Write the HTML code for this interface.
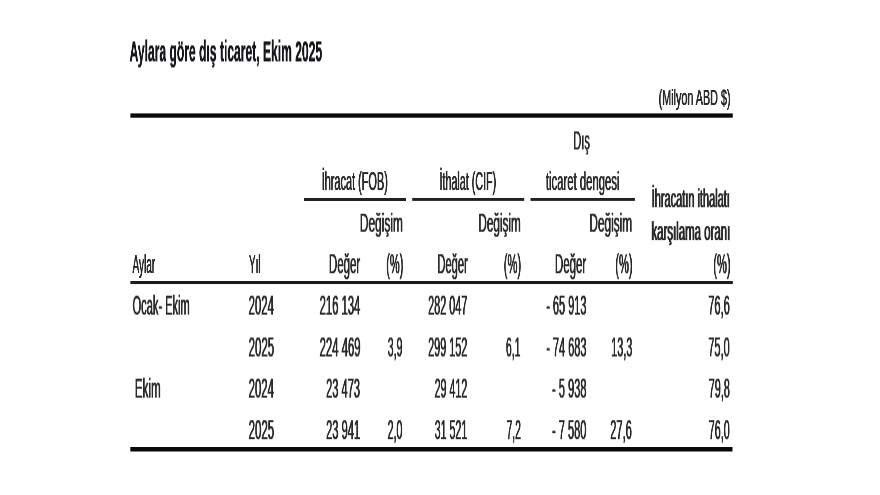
<!DOCTYPE html>
<html lang="tr"><head><meta charset="utf-8"><title>Aylara göre dış ticaret, Ekim 2025</title>
<style>
html,body{margin:0;padding:0;background:#fff;}
body{width:880px;height:495px;position:relative;overflow:hidden;font-family:"Liberation Sans",sans-serif;color:#2b2b2b;}
.t{position:absolute;left:0;top:0;white-space:nowrap;margin:0;padding:0;transform-origin:0 0;will-change:transform;}
.l{position:absolute;left:0;top:0;width:100px;height:10px;transform-origin:0 0;will-change:transform;}
#w{position:absolute;left:0;top:0;width:880px;height:495px;filter:blur(0.5px);}
</style></head><body><div id="w">
<div class="t" id="title" style="font-size:29px;line-height:29px;transform:translate(129.57px,36.52px) scale(0.4172,1.045);text-shadow:0.2px 0 0 currentColor,-0.2px 0 0 currentColor;font-weight:bold;color:#17171c;">Aylara göre dış ticaret, Ekim 2025</div>
<div class="t" id="milyon" style="font-size:22px;line-height:22px;transform:translate(658.61px,87.00px) scale(0.4900,1.0);text-shadow:0.45px 0 0 currentColor,-0.45px 0 0 currentColor;">(Milyon ABD $)</div>
<div class="t" id="dis" style="font-size:25px;line-height:25px;transform:translate(573.28px,127.46px) scale(0.4426,1.04);text-shadow:0.6px 0 0 currentColor,-0.6px 0 0 currentColor;">Dış</div>
<div class="t" id="ihracat" style="font-size:25px;line-height:25px;transform:translate(321.68px,168.15px) scale(0.4371,1.055);text-shadow:0.6px 0 0 currentColor,-0.6px 0 0 currentColor;">İhracat (FOB)</div>
<div class="t" id="ithalat" style="font-size:25px;line-height:25px;transform:translate(439.49px,168.15px) scale(0.4295,1.055);text-shadow:0.6px 0 0 currentColor,-0.6px 0 0 currentColor;">İthalat (CIF)</div>
<div class="t" id="ticaret" style="font-size:25px;line-height:25px;transform:translate(545.86px,169.09px) scale(0.4526,1.01);text-shadow:0.6px 0 0 currentColor,-0.6px 0 0 currentColor;">ticaret dengesi</div>
<div class="t" id="deg1" style="font-size:25px;line-height:25px;transform:translate(359.83px,209.78px) scale(0.4775,1.025);text-shadow:0.6px 0 0 currentColor,-0.6px 0 0 currentColor;">Değişim</div>
<div class="t" id="deg2" style="font-size:25px;line-height:25px;transform:translate(478.34px,209.78px) scale(0.4707,1.025);text-shadow:0.6px 0 0 currentColor,-0.6px 0 0 currentColor;">Değişim</div>
<div class="t" id="deg3" style="font-size:25px;line-height:25px;transform:translate(589.34px,209.78px) scale(0.4741,1.025);text-shadow:0.6px 0 0 currentColor,-0.6px 0 0 currentColor;">Değişim</div>
<div class="t" id="ihrith" style="font-size:25px;line-height:25px;transform:translate(651.71px,186.20px) scale(0.4393,1.0);text-shadow:0.9px 0 0 currentColor,-0.9px 0 0 currentColor;">İhracatın ithalatı</div>
<div class="t" id="kars" style="font-size:25px;line-height:25px;transform:translate(651.41px,218.17px) scale(0.4575,1.025);text-shadow:0.9px 0 0 currentColor,-0.9px 0 0 currentColor;">karşılama oranı</div>
<div class="t" id="aylar" style="font-size:25px;line-height:25px;transform:translate(132.54px,251.99px) scale(0.4003,1.01);text-shadow:0.6px 0 0 currentColor,-0.6px 0 0 currentColor;">Aylar</div>
<div class="t" id="yil" style="font-size:25px;line-height:25px;transform:translate(248.94px,251.15px) scale(0.3972,1.05);text-shadow:0.6px 0 0 currentColor,-0.6px 0 0 currentColor;">Yıl</div>
<div class="t" id="dgr1" style="font-size:25px;line-height:25px;transform:translate(328.96px,250.41px) scale(0.4586,1.085);text-shadow:0.6px 0 0 currentColor,-0.6px 0 0 currentColor;">Değer</div>
<div class="t" id="pc1" style="font-size:25px;line-height:25px;transform:translate(386.20px,250.41px) scale(0.4411,1.085);text-shadow:0.6px 0 0 currentColor,-0.6px 0 0 currentColor;">(%)</div>
<div class="t" id="dgr2" style="font-size:25px;line-height:25px;transform:translate(437.38px,250.41px) scale(0.4451,1.085);text-shadow:0.6px 0 0 currentColor,-0.6px 0 0 currentColor;">Değer</div>
<div class="t" id="pc2" style="font-size:25px;line-height:25px;transform:translate(503.80px,250.41px) scale(0.4438,1.085);text-shadow:0.6px 0 0 currentColor,-0.6px 0 0 currentColor;">(%)</div>
<div class="t" id="dgr3" style="font-size:25px;line-height:25px;transform:translate(554.96px,250.41px) scale(0.4586,1.085);text-shadow:0.6px 0 0 currentColor,-0.6px 0 0 currentColor;">Değer</div>
<div class="t" id="pc3" style="font-size:25px;line-height:25px;transform:translate(615.30px,250.41px) scale(0.4438,1.085);text-shadow:0.6px 0 0 currentColor,-0.6px 0 0 currentColor;">(%)</div>
<div class="t" id="pc4" style="font-size:25px;line-height:25px;transform:translate(713.30px,250.41px) scale(0.4438,1.085);text-shadow:0.6px 0 0 currentColor,-0.6px 0 0 currentColor;">(%)</div>
<div class="t" id="ocak" style="font-size:25px;line-height:25px;transform:translate(132.61px,291.81px) scale(0.4417,1.085);text-shadow:0.6px 0 0 currentColor,-0.6px 0 0 currentColor;">Ocak- Ekim</div>
<div class="t" id="y1" style="font-size:25px;line-height:25px;transform:translate(248.60px,291.81px) scale(0.4550,1.085);text-shadow:0.6px 0 0 currentColor,-0.6px 0 0 currentColor;">2024</div>
<div class="t" id="a1" style="font-size:25px;line-height:25px;transform:translate(319.61px,291.81px) scale(0.4504,1.085);text-shadow:0.6px 0 0 currentColor,-0.6px 0 0 currentColor;">216 134</div>
<div class="t" id="b1" style="font-size:25px;line-height:25px;transform:translate(428.12px,291.81px) scale(0.4340,1.085);text-shadow:0.6px 0 0 currentColor,-0.6px 0 0 currentColor;">282 047</div>
<div class="t" id="c1" style="font-size:25px;line-height:25px;transform:translate(546.22px,291.81px) scale(0.4387,1.085);text-shadow:0.6px 0 0 currentColor,-0.6px 0 0 currentColor;">- 65 913</div>
<div class="t" id="r1" style="font-size:25px;line-height:25px;transform:translate(708.21px,291.81px) scale(0.4447,1.085);text-shadow:0.6px 0 0 currentColor,-0.6px 0 0 currentColor;">76,6</div>
<div class="t" id="y2" style="font-size:25px;line-height:25px;transform:translate(248.60px,333.61px) scale(0.4591,1.085);text-shadow:0.6px 0 0 currentColor,-0.6px 0 0 currentColor;">2025</div>
<div class="t" id="a2" style="font-size:25px;line-height:25px;transform:translate(319.61px,333.61px) scale(0.4529,1.085);text-shadow:0.6px 0 0 currentColor,-0.6px 0 0 currentColor;">224 469</div>
<div class="t" id="p2" style="font-size:25px;line-height:25px;transform:translate(387.73px,333.61px) scale(0.4243,1.085);text-shadow:0.6px 0 0 currentColor,-0.6px 0 0 currentColor;">3,9</div>
<div class="t" id="b2" style="font-size:25px;line-height:25px;transform:translate(428.12px,333.61px) scale(0.4340,1.085);text-shadow:0.6px 0 0 currentColor,-0.6px 0 0 currentColor;">299 152</div>
<div class="t" id="q2" style="font-size:25px;line-height:25px;transform:translate(505.93px,333.61px) scale(0.4185,1.085);text-shadow:0.6px 0 0 currentColor,-0.6px 0 0 currentColor;">6,1</div>
<div class="t" id="c2" style="font-size:25px;line-height:25px;transform:translate(546.22px,333.61px) scale(0.4387,1.085);text-shadow:0.6px 0 0 currentColor,-0.6px 0 0 currentColor;">- 74 683</div>
<div class="t" id="s2" style="font-size:25px;line-height:25px;transform:translate(611.19px,333.61px) scale(0.4347,1.085);text-shadow:0.6px 0 0 currentColor,-0.6px 0 0 currentColor;">13,3</div>
<div class="t" id="r2" style="font-size:25px;line-height:25px;transform:translate(708.21px,333.61px) scale(0.4423,1.085);text-shadow:0.6px 0 0 currentColor,-0.6px 0 0 currentColor;">75,0</div>
<div class="t" id="ekim" style="font-size:25px;line-height:25px;transform:translate(134.85px,374.81px) scale(0.4643,1.085);text-shadow:0.6px 0 0 currentColor,-0.6px 0 0 currentColor;">Ekim</div>
<div class="t" id="y3" style="font-size:25px;line-height:25px;transform:translate(248.60px,374.81px) scale(0.4550,1.085);text-shadow:0.6px 0 0 currentColor,-0.6px 0 0 currentColor;">2024</div>
<div class="t" id="a3" style="font-size:25px;line-height:25px;transform:translate(326.11px,374.81px) scale(0.4427,1.085);text-shadow:0.6px 0 0 currentColor,-0.6px 0 0 currentColor;">23 473</div>
<div class="t" id="b3" style="font-size:25px;line-height:25px;transform:translate(434.62px,374.81px) scale(0.4269,1.085);text-shadow:0.6px 0 0 currentColor,-0.6px 0 0 currentColor;">29 412</div>
<div class="t" id="c3" style="font-size:25px;line-height:25px;transform:translate(552.02px,374.81px) scale(0.4431,1.085);text-shadow:0.6px 0 0 currentColor,-0.6px 0 0 currentColor;">- 5 938</div>
<div class="t" id="r3" style="font-size:25px;line-height:25px;transform:translate(708.72px,374.81px) scale(0.4341,1.085);text-shadow:0.6px 0 0 currentColor,-0.6px 0 0 currentColor;">79,8</div>
<div class="t" id="y4" style="font-size:25px;line-height:25px;transform:translate(248.60px,416.31px) scale(0.4591,1.085);text-shadow:0.6px 0 0 currentColor,-0.6px 0 0 currentColor;">2025</div>
<div class="t" id="a4" style="font-size:25px;line-height:25px;transform:translate(326.11px,416.31px) scale(0.4441,1.085);text-shadow:0.6px 0 0 currentColor,-0.6px 0 0 currentColor;">23 941</div>
<div class="t" id="p4" style="font-size:25px;line-height:25px;transform:translate(387.62px,416.31px) scale(0.4243,1.085);text-shadow:0.6px 0 0 currentColor,-0.6px 0 0 currentColor;">2,0</div>
<div class="t" id="b4" style="font-size:25px;line-height:25px;transform:translate(434.73px,416.31px) scale(0.4254,1.085);text-shadow:0.6px 0 0 currentColor,-0.6px 0 0 currentColor;">31 521</div>
<div class="t" id="q4" style="font-size:25px;line-height:25px;transform:translate(506.53px,416.31px) scale(0.4126,1.085);text-shadow:0.6px 0 0 currentColor,-0.6px 0 0 currentColor;">7,2</div>
<div class="t" id="c4" style="font-size:25px;line-height:25px;transform:translate(552.02px,416.31px) scale(0.4417,1.085);text-shadow:0.6px 0 0 currentColor,-0.6px 0 0 currentColor;">- 7 580</div>
<div class="t" id="s4" style="font-size:25px;line-height:25px;transform:translate(610.21px,416.31px) scale(0.4447,1.085);text-shadow:0.6px 0 0 currentColor,-0.6px 0 0 currentColor;">27,6</div>
<div class="t" id="r4" style="font-size:25px;line-height:25px;transform:translate(708.72px,416.31px) scale(0.4319,1.085);text-shadow:0.6px 0 0 currentColor,-0.6px 0 0 currentColor;">76,0</div>
<div class="l" style="background:#0a0a0a;transform:translate(130.40px,113.40px) scale(6.0240,0.4300);"></div>
<div class="l" style="background:#222;transform:translate(304.00px,198.00px) scale(1.0200,0.2900);"></div>
<div class="l" style="background:#222;transform:translate(412.20px,198.00px) scale(1.1200,0.2900);"></div>
<div class="l" style="background:#222;transform:translate(530.50px,198.00px) scale(1.0440,0.2900);"></div>
<div class="l" style="background:#1c1c1c;transform:translate(130.40px,281.00px) scale(6.0240,0.3050);"></div>
<div class="l" style="background:#0a0a0a;transform:translate(130.30px,447.00px) scale(6.0220,0.4500);"></div>
</div></body></html>
